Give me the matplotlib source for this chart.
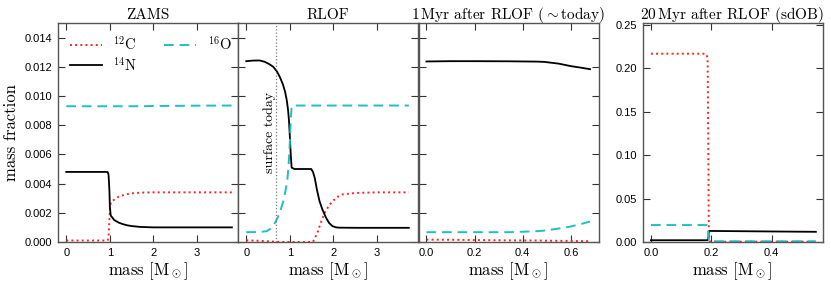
import matplotlib
matplotlib.use('Agg')
import matplotlib.pyplot as plt
import numpy as np

# ZAMS profile
zams_m = [0.0, 0.5, 0.9, 0.95, 0.97, 0.99, 1.0, 1.02, 1.05, 1.1, 1.2, 1.3, 1.4, 1.5, 1.7, 2.0, 2.5, 3.0, 3.8]
zams_c12 = [0.0001, 0.0001, 0.0001, 0.00011, 0.0004, 0.0015, 0.0022, 0.0027, 0.0028, 0.0029, 0.0031, 0.0032,
            0.00328, 0.00333, 0.00338, 0.0034, 0.0034, 0.0034, 0.0034]
zams_n14 = [0.0048, 0.0048, 0.0048, 0.00479, 0.0046, 0.0035, 0.0024, 0.0018, 0.0017, 0.0015, 0.00133, 0.00122,
            0.00114, 0.00109, 0.00103, 0.001, 0.001, 0.001, 0.001]
zams_o16 = [0.0093, 0.0093, 0.0093, 0.0093, 0.0093, 0.0093, 0.0093, 0.0093, 0.0093, 0.0093, 0.0093, 0.0093,
            0.0093, 0.0093, 0.0093, 0.00932, 0.00933, 0.00934, 0.00935]

# at RLOF
rlof_m = [0.0, 0.15, 0.3, 0.42, 0.52, 0.62, 0.7, 0.77, 0.84, 0.89, 0.93, 0.96, 0.98, 1.0, 1.02, 1.04, 1.1, 1.3,
          1.49, 1.53, 1.57, 1.62, 1.68, 1.75, 1.83, 1.9, 1.98, 2.06, 2.14, 2.5, 3.0, 3.73]
rlof_n14 = [0.01239, 0.01243, 0.01244, 0.01235, 0.0122, 0.0120, 0.0117, 0.01131, 0.0108, 0.0103, 0.0097,
            0.0090, 0.0083, 0.0072, 0.0060, 0.0051, 0.0050, 0.0050, 0.0050, 0.0048, 0.0044, 0.0036, 0.0028,
            0.0022, 0.00166, 0.0013, 0.00108, 0.00100, 0.00098, 0.00097, 0.00097, 0.00097]
rlof_o16_m = [0.0, 0.3, 0.47, 0.6, 0.7, 0.78, 0.85, 0.9, 0.94, 0.97, 1.0, 1.02, 1.04, 1.1, 2.0, 3.0, 3.73]
rlof_o16 = [0.00067, 0.00068, 0.00074, 0.0010, 0.00154, 0.0021, 0.0028, 0.0035, 0.0042, 0.0052, 0.0069,
            0.0083, 0.0093, 0.00935, 0.00935, 0.00935, 0.00935]
rlof_c12_m = [0.0, 0.3, 0.6, 0.77, 1.2, 1.53, 1.58, 1.64, 1.72, 1.80, 1.9, 1.98, 2.1, 2.21, 2.52, 3.0, 3.73]
rlof_c12 = [0.00011, 0.00008, 0.00003, 0.0, 0.0, 0.0, 0.0003, 0.0007, 0.0014, 0.0020, 0.0025, 0.0028,
            0.0031, 0.00326, 0.00336, 0.0034, 0.0034]
surface_today = 0.68

# 1 Myr after RLOF
now_m = [0.0, 0.1, 0.21, 0.35, 0.46, 0.49, 0.55, 0.6, 0.64, 0.68]
now_n14 = [0.01237, 0.01239, 0.01239, 0.01238, 0.01236, 0.01234, 0.01222, 0.01205, 0.01195, 0.01184]
now_o16 = [0.00067, 0.00067, 0.00067, 0.00067, 0.00074, 0.00078, 0.00092, 0.00106, 0.00122, 0.00140]
now_c12 = [0.00016, 0.00015, 0.00013, 0.00011, 0.0001, 0.00009, 0.00008, 0.00007, 0.00006, 0.00005]

# 20 Myr after RLOF (sdOB)
sdob_m = [0.0, 0.18, 0.185, 0.188, 0.19, 0.192, 0.195, 0.2, 0.3, 0.4, 0.547]
sdob_c12 = [0.217, 0.217, 0.216, 0.21, 0.12, 0.01, 0.0005, 0.0003, 0.0003, 0.0003, 0.0003]
sdob_n14 = [0.002, 0.002, 0.002, 0.0021, 0.003, 0.012, 0.0127, 0.0127, 0.0124, 0.0121, 0.0117]
sdob_o16 = [0.0195, 0.0195, 0.0195, 0.019, 0.012, 0.002, 0.0008, 0.0008, 0.0008, 0.0008, 0.0008]

panel_titles = ['ZAMS', 'RLOF', r'1$\,$Myr after RLOF ($\sim$today)', r'20$\,$Myr after RLOF (sdOB)']

C_COL = '#ff2020'
N_COL = 'black'
O_COL = '#20bfc4'


def style_axis(ax):
    ax.tick_params(direction='in', top=True, right=True, length=5, width=0.8, labelsize=8,
                   colors='#333333', labelcolor='black', pad=4)
    for sp in ax.spines.values():
        sp.set_color('#555555')
        sp.set_linewidth(1.0)


def draw(ax, m_c, c, m_n, n, m_o, o):
    ax.plot(m_c, c, color=C_COL, ls=':', lw=1.4, label=r'$^{12}$C')
    ax.plot(m_n, n, color=N_COL, ls='-', lw=1.3, label=r'$^{14}$N')
    ax.plot(m_o, o, color=O_COL, ls=(0, (5, 3)), lw=1.4, label=r'$^{16}$O')


def main():
    plt.rcParams['font.family'] = ['Liberation Sans', 'DejaVu Sans']
    plt.rcParams['mathtext.fontset'] = 'cm'
    serif = dict(fontfamily='cmr10')

    fig = plt.figure(figsize=(8.31, 2.85), dpi=100)
    bottom, height = 0.151, 0.768
    w = 180.0 / 831
    lefts = [58.0 / 831, 238.0 / 831, 418.5 / 831, 642.5 / 831]
    axes = [fig.add_axes([l, bottom, w, height]) for l in lefts]

    ax1, ax2, ax3, ax4 = axes
    draw(ax1, zams_m, zams_c12, zams_m, zams_n14, zams_m, zams_o16)
    draw(ax2, rlof_c12_m, rlof_c12, rlof_m, rlof_n14, rlof_o16_m, rlof_o16)
    draw(ax3, now_m, now_c12, now_m, now_n14, now_m, now_o16)
    draw(ax4, sdob_m, sdob_c12, sdob_m, sdob_n14, sdob_m, sdob_o16)

    ax2.axvline(surface_today, color='#777777', ls=':', lw=0.9)
    ax2.text(surface_today - 0.15, 0.0075, 'surface today', rotation=90, ha='center', va='center',
             fontsize=10, **serif)

    for ax in (ax1, ax2):
        ax.set_xlim(-0.19, 3.94)
        ax.set_xticks([0, 1, 2, 3])
    ax3.set_xlim(-0.033, 0.715)
    ax3.set_xticks([0.0, 0.2, 0.4, 0.6])
    ax3.set_xticklabels(['0.0', '0.2', '0.4', '0.6'])
    ax4.set_xlim(-0.028, 0.569)
    ax4.set_xticks([0.0, 0.2, 0.4])
    ax4.set_xticklabels(['0.0', '0.2', '0.4'])

    for ax in (ax1, ax2, ax3):
        ax.set_ylim(0, 0.0150)
        ax.set_yticks(np.arange(0, 0.0141, 0.002))
    ax1.set_yticklabels(['%.3f' % v for v in np.arange(0, 0.0141, 0.002)])
    ax2.set_yticklabels([])
    ax3.set_yticklabels([])
    ax4.set_ylim(0, 0.2523)
    ax4.set_yticks([0, 0.05, 0.1, 0.15, 0.2, 0.25])
    ax4.set_yticklabels(['0.00', '0.05', '0.10', '0.15', '0.20', '0.25'])

    for ax, title in zip(axes, panel_titles):
        style_axis(ax)
        ax.set_title(title, fontsize=11, pad=3, **serif)
        ax.set_xlabel(r'mass [M$_\odot$]', fontsize=12, labelpad=2, **serif)
    ax1.set_ylabel('mass fraction', fontsize=12, labelpad=4, **serif)

    ax1.legend(loc='upper left', ncol=2, frameon=False, handlelength=2.2, handletextpad=0.8,
               columnspacing=1.8, borderaxespad=0.4, labelspacing=0.2,
               prop={'family': 'cmr10', 'size': 10.5})

    fig.savefig('out.png', dpi=100)


if __name__ == '__main__':
    main()
